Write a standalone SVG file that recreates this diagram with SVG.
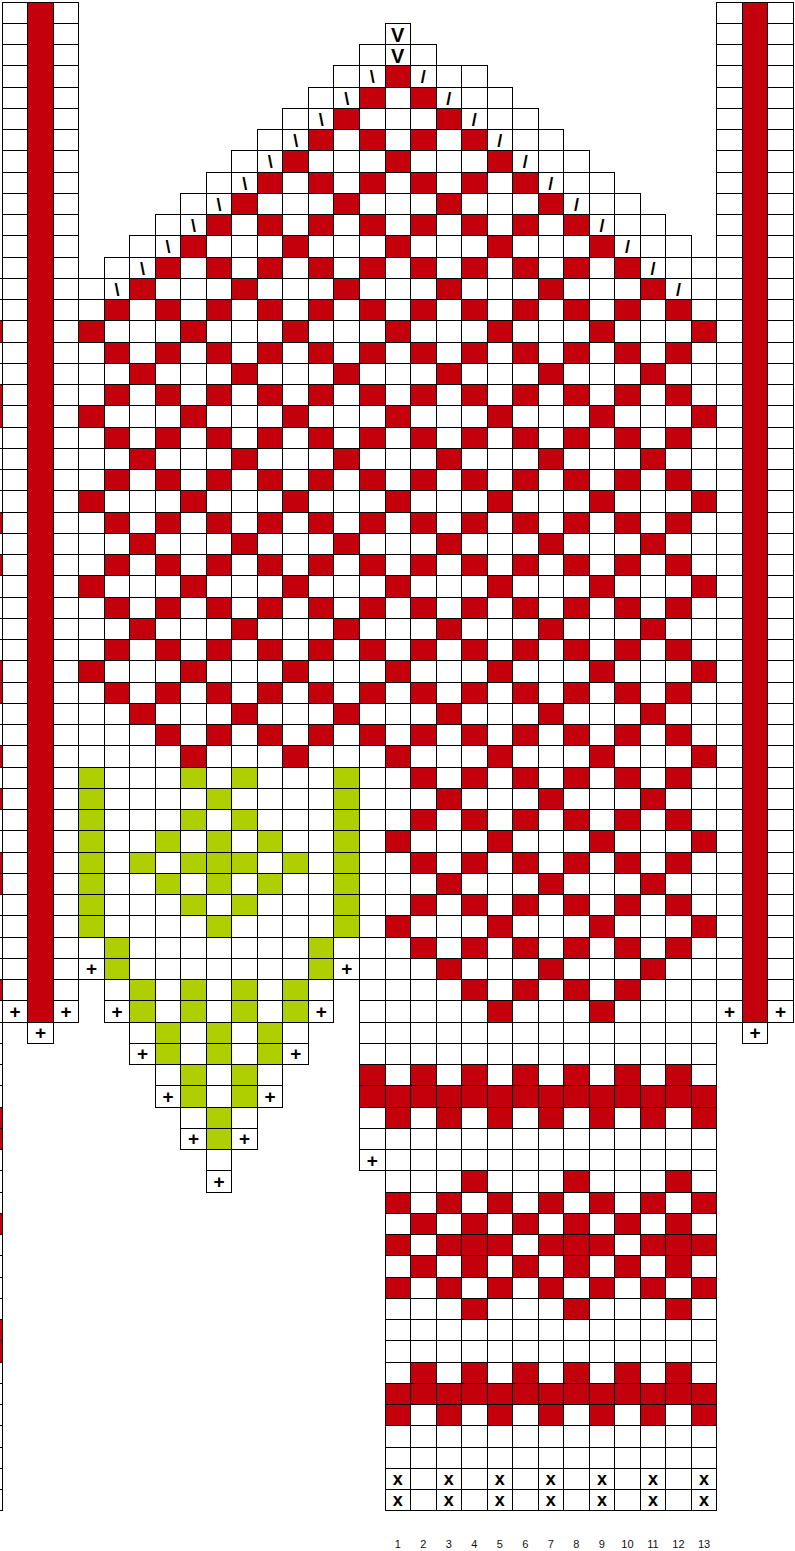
<svg xmlns="http://www.w3.org/2000/svg" width="795" height="1551" viewBox="0 0 795 1551">
<style>
.c{fill:#c4000c}
.g{fill:#afcf00}
.k{shape-rendering:crispEdges}
.s{font-family:"Liberation Sans",Arial,sans-serif;font-weight:700;text-anchor:middle;fill:#000}
.v{font-size:20px}
.d{font-size:18px}
.p{font-size:19px}
.x{font-size:18px}
.n{font-family:"Liberation Sans",Arial,sans-serif;font-size:11px;text-anchor:middle;fill:#111}
</style>
<defs>
<path id="cellsP" d="M2.2 2H78.76V1022H2.2Z M27.72 1022H53.24V1043.25H27.72Z M716.76 2H793.32V1022H716.76Z M742.28 1022H767.8V1043.25H742.28Z M-23.32 278.25H2.2V1510.75H-23.32Z M385 23.25H410.52V44.5H385Z M359.48 44.5H436.04V65.75H359.48Z M333.96 65.75H487.08V87H333.96Z M308.44 87H512.6V108.25H308.44Z M282.92 108.25H538.12V129.5H282.92Z M257.4 129.5H563.64V150.75H257.4Z M231.88 150.75H589.16V172H231.88Z M206.36 172H614.68V193.25H206.36Z M180.84 193.25H640.2V214.5H180.84Z M155.32 214.5H665.72V235.75H155.32Z M129.8 235.75H691.24V257H129.8Z M104.28 257H716.76V278.25H104.28Z M78.76 278.25H716.76V979.5H78.76Z M104.28 979.5H333.96V1022H104.28Z M129.8 1022H308.44V1064.5H129.8Z M155.32 1064.5H282.92V1107H155.32Z M180.84 1107H257.4V1149.5H180.84Z M206.36 1149.5H231.88V1192H206.36Z M359.48 979.5H716.76V1170.75H359.48Z M385 1170.75H716.76V1510.75H385Z"/>
<clipPath id="cellsClip"><use href="#cellsP"/></clipPath>
<clipPath id="patClip"><path d="M385 65.75H410.52V87H385Z M359.48 87H436.04V108.25H359.48Z M333.96 108.25H487.08V129.5H333.96Z M308.44 129.5H512.6V150.75H308.44Z M282.92 150.75H538.12V172H282.92Z M257.4 172H563.64V193.25H257.4Z M231.88 193.25H589.16V214.5H231.88Z M206.36 214.5H614.68V235.75H206.36Z M180.84 235.75H640.2V257H180.84Z M155.32 257H665.72V278.25H155.32Z M129.8 278.25H691.24V299.5H129.8Z M78.76 299.5H716.76V724.5H78.76Z M129.8 724.5H716.76V767H129.8Z M385 767H716.76V979.5H385Z M436.04 979.5H665.72V1022H436.04Z"/></clipPath>
<g id="rA" class="c"><rect x="78.76" width="25.52" height="21.25"/><rect x="180.84" width="25.52" height="21.25"/><rect x="282.92" width="25.52" height="21.25"/><rect x="385" width="25.52" height="21.25"/><rect x="487.08" width="25.52" height="21.25"/><rect x="589.16" width="25.52" height="21.25"/><rect x="691.24" width="25.52" height="21.25"/></g>
<g id="rB" class="c"><rect x="129.8" width="25.52" height="21.25"/><rect x="231.88" width="25.52" height="21.25"/><rect x="333.96" width="25.52" height="21.25"/><rect x="436.04" width="25.52" height="21.25"/><rect x="538.12" width="25.52" height="21.25"/><rect x="640.2" width="25.52" height="21.25"/></g>
<g id="rE" class="c"><rect x="104.28" width="25.52" height="21.25"/><rect x="155.32" width="25.52" height="21.25"/><rect x="206.36" width="25.52" height="21.25"/><rect x="257.4" width="25.52" height="21.25"/><rect x="308.44" width="25.52" height="21.25"/><rect x="359.48" width="25.52" height="21.25"/><rect x="410.52" width="25.52" height="21.25"/><rect x="461.56" width="25.52" height="21.25"/><rect x="512.6" width="25.52" height="21.25"/><rect x="563.64" width="25.52" height="21.25"/><rect x="614.68" width="25.52" height="21.25"/><rect x="665.72" width="25.52" height="21.25"/></g>
<g id="rO" class="c"><rect x="385" width="25.52" height="21.25"/><rect x="436.04" width="25.52" height="21.25"/><rect x="487.08" width="25.52" height="21.25"/><rect x="538.12" width="25.52" height="21.25"/><rect x="589.16" width="25.52" height="21.25"/><rect x="640.2" width="25.52" height="21.25"/><rect x="691.24" width="25.52" height="21.25"/></g>
<g id="rE2" class="c"><rect x="410.52" width="25.52" height="21.25"/><rect x="461.56" width="25.52" height="21.25"/><rect x="512.6" width="25.52" height="21.25"/><rect x="563.64" width="25.52" height="21.25"/><rect x="614.68" width="25.52" height="21.25"/><rect x="665.72" width="25.52" height="21.25"/></g>
<g id="r3" class="c"><rect x="461.56" width="25.52" height="21.25"/><rect x="563.64" width="25.52" height="21.25"/><rect x="665.72" width="25.52" height="21.25"/></g>
<g id="gP" class="g"><rect x="180.84" width="25.52" height="21.25"/><rect x="231.88" width="25.52" height="21.25"/></g>
<g id="gQ" class="g"><rect x="206.36" width="25.52" height="21.25"/></g>
<g id="gR" class="g"><rect x="155.32" width="25.52" height="21.25"/><rect x="206.36" width="25.52" height="21.25"/><rect x="257.4" width="25.52" height="21.25"/></g>
</defs>
<rect width="795" height="1551" fill="#fff"/>
<use href="#cellsP" fill="#fff"/>
<g id="body-pattern" class="k" clip-path="url(#patClip)">
<use href="#rA" y="65.75"/><use href="#rE" y="87"/><use href="#rB" y="108.25"/><use href="#rE" y="129.5"/>
<use href="#rA" y="150.75"/><use href="#rE" y="172"/><use href="#rB" y="193.25"/><use href="#rE" y="214.5"/>
<use href="#rA" y="235.75"/><use href="#rE" y="257"/><use href="#rB" y="278.25"/><use href="#rE" y="299.5"/>
<use href="#rA" y="320.75"/><use href="#rE" y="342"/><use href="#rB" y="363.25"/><use href="#rE" y="384.5"/>
<use href="#rA" y="405.75"/><use href="#rE" y="427"/><use href="#rB" y="448.25"/><use href="#rE" y="469.5"/>
<use href="#rA" y="490.75"/><use href="#rE" y="512"/><use href="#rB" y="533.25"/><use href="#rE" y="554.5"/>
<use href="#rA" y="575.75"/><use href="#rE" y="597"/><use href="#rB" y="618.25"/><use href="#rE" y="639.5"/>
<use href="#rA" y="660.75"/><use href="#rE" y="682"/><use href="#rB" y="703.25"/><use href="#rE" y="724.5"/>
<use href="#rA" y="745.75"/><use href="#rE" y="767"/><use href="#rB" y="788.25"/><use href="#rE" y="809.5"/>
<use href="#rA" y="830.75"/><use href="#rE" y="852"/><use href="#rB" y="873.25"/><use href="#rE" y="894.5"/>
<use href="#rA" y="915.75"/><use href="#rE" y="937"/><use href="#rB" y="958.25"/><use href="#rE" y="979.5"/>
<use href="#rA" y="1000.75"/>
</g>
<g id="cuff-pattern" class="k">
<use href="#rE2" y="1064.5"/><rect class="c" x="359.48" y="1064.5" width="25.52" height="21.25"/>
<rect class="c" x="359.48" y="1085.75" width="357.28" height="21.25"/>
<use href="#rO" y="1107"/>
<use href="#r3" y="1170.75"/>
<use href="#rO" y="1192"/>
<use href="#rE2" y="1213.25"/>
<rect class="c" x="385" y="1234.5" width="25.52" height="21.25"/><rect class="c" x="436.04" y="1234.5" width="76.56" height="21.25"/><rect class="c" x="538.12" y="1234.5" width="76.56" height="21.25"/><rect class="c" x="640.2" y="1234.5" width="76.56" height="21.25"/>
<use href="#rE2" y="1255.75"/>
<use href="#rO" y="1277"/>
<use href="#r3" y="1298.25"/>
<use href="#rE2" y="1362"/>
<rect class="c" x="385" y="1383.25" width="331.76" height="21.25"/>
<use href="#rO" y="1404.5"/>
</g>
<g id="thumb-pattern" class="k">
<rect class="g" x="78.76" y="767" width="25.52" height="170"/>
<rect class="g" x="333.96" y="767" width="25.52" height="170"/>
<use href="#gP" y="767"/><use href="#gQ" y="788.25"/><use href="#gP" y="809.5"/><use href="#gR" y="830.75"/>
<rect class="g" x="129.8" y="852" width="25.52" height="21.25"/><rect class="g" x="180.84" y="852" width="76.56" height="21.25"/><rect class="g" x="282.92" y="852" width="25.52" height="21.25"/>
<use href="#gR" y="873.25"/><use href="#gP" y="894.5"/><use href="#gQ" y="915.75"/>
<rect class="g" x="104.28" y="937" width="25.52" height="42.5"/><rect class="g" x="308.44" y="937" width="25.52" height="42.5"/>
<rect class="g" x="129.8" y="979.5" width="25.52" height="42.5"/><rect class="g" x="180.84" y="979.5" width="25.52" height="42.5"/><rect class="g" x="231.88" y="979.5" width="25.52" height="42.5"/><rect class="g" x="282.92" y="979.5" width="25.52" height="42.5"/>
<rect class="g" x="155.32" y="1022" width="25.52" height="42.5"/><rect class="g" x="206.36" y="1022" width="25.52" height="42.5"/><rect class="g" x="257.4" y="1022" width="25.52" height="42.5"/>
<rect class="g" x="180.84" y="1064.5" width="25.52" height="42.5"/><rect class="g" x="231.88" y="1064.5" width="25.52" height="42.5"/>
<rect class="g" x="206.36" y="1107" width="25.52" height="42.5"/>
</g>
<g id="edge-column" class="k c">
<rect x="-23.32" y="320.75" width="25.52" height="21.25"/>
<rect x="-23.32" y="384.5" width="25.52" height="42.5"/>
<rect x="-23.32" y="512" width="25.52" height="21.25"/>
<rect x="-23.32" y="554.5" width="25.52" height="21.25"/>
<rect x="-23.32" y="660.75" width="25.52" height="42.5"/>
<rect x="-23.32" y="745.75" width="25.52" height="21.25"/>
<rect x="-23.32" y="788.25" width="25.52" height="21.25"/>
<rect x="-23.32" y="852" width="25.52" height="42.5"/>
<rect x="-23.32" y="979.5" width="25.52" height="21.25"/>
<rect x="-23.32" y="1107" width="25.52" height="42.5"/>
<rect x="-23.32" y="1213.25" width="25.52" height="21.25"/>
<rect x="-23.32" y="1319.5" width="25.52" height="42.5"/>
</g>
<g id="grid" class="k" clip-path="url(#cellsClip)">
<path fill="none" stroke="#000" stroke-width="1" d="M-24 2H795M-24 23.25H795M-24 44.5H795M-24 65.75H795M-24 87H795M-24 108.25H795M-24 129.5H795M-24 150.75H795M-24 172H795M-24 193.25H795M-24 214.5H795M-24 235.75H795M-24 257H795M-24 278.25H795M-24 299.5H795M-24 320.75H795M-24 342H795M-24 363.25H795M-24 384.5H795M-24 405.75H795M-24 427H795M-24 448.25H795M-24 469.5H795M-24 490.75H795M-24 512H795M-24 533.25H795M-24 554.5H795M-24 575.75H795M-24 597H795M-24 618.25H795M-24 639.5H795M-24 660.75H795M-24 682H795M-24 703.25H795M-24 724.5H795M-24 745.75H795M-24 767H795M-24 788.25H795M-24 809.5H795M-24 830.75H795M-24 852H795M-24 873.25H795M-24 894.5H795M-24 915.75H795M-24 937H795M-24 958.25H795M-24 979.5H795M-24 1000.75H795M-24 1022H795M-24 1043.25H795M-24 1064.5H795M-24 1085.75H795M-24 1107H795M-24 1128.25H795M-24 1149.5H795M-24 1170.75H795M-24 1192H795M-24 1213.25H795M-24 1234.5H795M-24 1255.75H795M-24 1277H795M-24 1298.25H795M-24 1319.5H795M-24 1340.75H795M-24 1362H795M-24 1383.25H795M-24 1404.5H795M-24 1425.75H795M-24 1447H795M-24 1468.25H795M-24 1489.5H795M-24 1510.75H795 M2.2 0V1512M27.72 0V1512M53.24 0V1512M78.76 0V1512M104.28 0V1512M129.8 0V1512M155.32 0V1512M180.84 0V1512M206.36 0V1512M231.88 0V1512M257.4 0V1512M282.92 0V1512M308.44 0V1512M333.96 0V1512M359.48 0V1512M385 0V1512M410.52 0V1512M436.04 0V1512M461.56 0V1512M487.08 0V1512M512.6 0V1512M538.12 0V1512M563.64 0V1512M589.16 0V1512M614.68 0V1512M640.2 0V1512M665.72 0V1512M691.24 0V1512M716.76 0V1512M742.28 0V1512M767.8 0V1512M793.32 0V1512"/>
</g>
<use id="outline" class="k" href="#cellsP" fill="none" stroke="#000" stroke-width="1"/>
<g id="stripes" class="k">
<rect class="c" x="27.72" y="2" width="25.52" height="1020" stroke="#000" stroke-width="1"/>
<rect class="c" x="742.28" y="2" width="25.52" height="1020" stroke="#000" stroke-width="1"/>
</g>
<g id="symbols" class="s">
<text class="v" x="397.76" y="42">V</text>
<text class="v" x="397.76" y="63.3">V</text>
<text class="d" x="372.24" y="83.25">\</text>
<text class="d" x="346.72" y="104.5">\</text>
<text class="d" x="321.2" y="125.75">\</text>
<text class="d" x="295.68" y="147">\</text>
<text class="d" x="270.16" y="168.25">\</text>
<text class="d" x="244.64" y="189.5">\</text>
<text class="d" x="219.12" y="210.75">\</text>
<text class="d" x="193.6" y="232">\</text>
<text class="d" x="168.08" y="253.25">\</text>
<text class="d" x="142.56" y="274.5">\</text>
<text class="d" x="117.04" y="295.75">\</text>
<text class="d" x="423.28" y="83.25">/</text>
<text class="d" x="448.8" y="104.5">/</text>
<text class="d" x="474.32" y="125.75">/</text>
<text class="d" x="499.84" y="147">/</text>
<text class="d" x="525.36" y="168.25">/</text>
<text class="d" x="550.88" y="189.5">/</text>
<text class="d" x="576.4" y="210.75">/</text>
<text class="d" x="601.92" y="232">/</text>
<text class="d" x="627.44" y="253.25">/</text>
<text class="d" x="652.96" y="274.5">/</text>
<text class="d" x="678.48" y="295.75">/</text>
<text class="p" x="91.52" y="975.45">+</text>
<text class="p" x="346.72" y="975.45">+</text>
<text class="p" x="14.96" y="1017.95">+</text>
<text class="p" x="66" y="1017.95">+</text>
<text class="p" x="117.04" y="1017.95">+</text>
<text class="p" x="321.2" y="1017.95">+</text>
<text class="p" x="729.52" y="1017.95">+</text>
<text class="p" x="780.56" y="1017.95">+</text>
<text class="p" x="40.48" y="1039.2">+</text>
<text class="p" x="755.04" y="1039.2">+</text>
<text class="p" x="142.56" y="1060.45">+</text>
<text class="p" x="295.68" y="1060.45">+</text>
<text class="p" x="168.08" y="1102.95">+</text>
<text class="p" x="270.16" y="1102.95">+</text>
<text class="p" x="193.6" y="1145.45">+</text>
<text class="p" x="244.64" y="1145.45">+</text>
<text class="p" x="372.24" y="1166.7">+</text>
<text class="p" x="219.12" y="1187.95">+</text>
<text class="x" x="397.76" y="1484.75">x</text>
<text class="x" x="448.8" y="1484.75">x</text>
<text class="x" x="499.84" y="1484.75">x</text>
<text class="x" x="550.88" y="1484.75">x</text>
<text class="x" x="601.92" y="1484.75">x</text>
<text class="x" x="652.96" y="1484.75">x</text>
<text class="x" x="704" y="1484.75">x</text>
<text class="x" x="397.76" y="1506">x</text>
<text class="x" x="448.8" y="1506">x</text>
<text class="x" x="499.84" y="1506">x</text>
<text class="x" x="550.88" y="1506">x</text>
<text class="x" x="601.92" y="1506">x</text>
<text class="x" x="652.96" y="1506">x</text>
<text class="x" x="704" y="1506">x</text>
</g>
<g id="column-numbers" class="n">
<text x="397.76" y="1547.5">1</text>
<text x="423.28" y="1547.5">2</text>
<text x="448.8" y="1547.5">3</text>
<text x="474.32" y="1547.5">4</text>
<text x="499.84" y="1547.5">5</text>
<text x="525.36" y="1547.5">6</text>
<text x="550.88" y="1547.5">7</text>
<text x="576.4" y="1547.5">8</text>
<text x="601.92" y="1547.5">9</text>
<text x="627.44" y="1547.5">10</text>
<text x="652.96" y="1547.5">11</text>
<text x="678.48" y="1547.5">12</text>
<text x="704" y="1547.5">13</text>
</g>
</svg>
